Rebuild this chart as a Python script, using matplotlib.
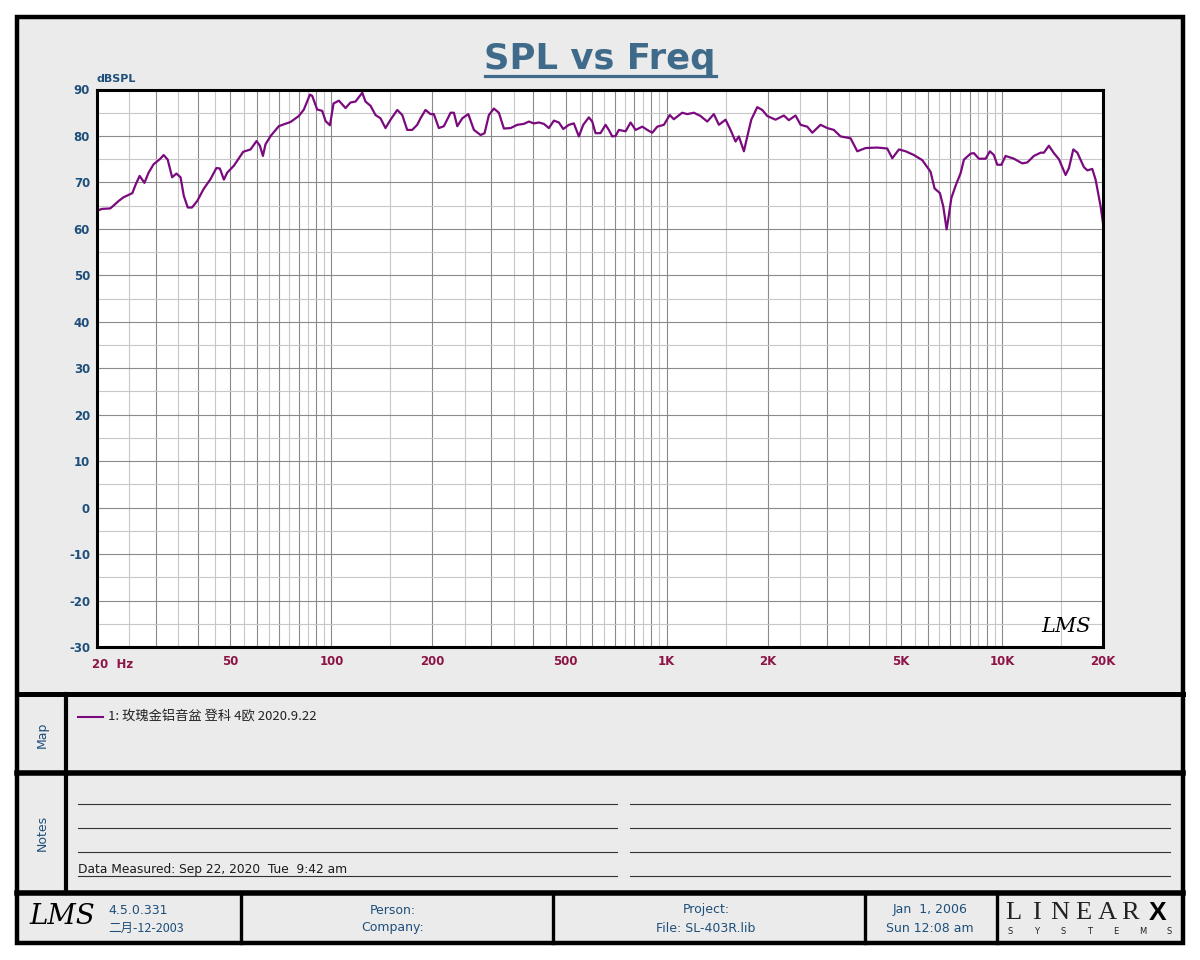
import matplotlib
matplotlib.use("Agg")
import matplotlib.pyplot as plt
from matplotlib.patches import Rectangle
from matplotlib.lines import Line2D
from matplotlib.ticker import NullFormatter
import matplotlib.transforms as mtransforms

plt.rcParams["axes.unicode_minus"] = False

freq = [20, 20.7, 21.9, 22.4, 23.2, 24.0, 25.5, 26.1, 26.8, 27.7, 28.5, 29.5, 30.9, 31.6,
        32.5, 33.5, 34.5, 35.5, 36.3, 37.3, 38.4, 39.8, 41.6, 43.6, 45.4, 46.5, 47.8, 48.9,
        51.2, 54.6, 57.4, 59.8, 61.2, 62.5, 63.6, 65.9, 69.7, 72.1, 75.5, 80.0, 82.8, 86.3,
        87.7, 90.7, 93.9, 96.1, 99.0, 101.5, 105.3, 110.2, 114.0, 118.0, 123.6, 126.4, 130.8,
        135.4, 140.1, 145.0, 150.1, 157.2, 162.7, 168.3, 174.2, 180.3, 184.4, 190.8, 197.5,
        202.1, 209.1, 216.5, 226.7, 231.9, 237.4, 245.7, 256.0, 266.1, 278.6, 286.3, 294.9,
        305.2, 315.8, 326.9, 342.3, 358.4, 375.0, 388.1, 401.6, 415.7, 430.2, 445.2, 460.8,
        476.9, 491.5, 510.8, 528.5, 547.0, 563.7, 585.8, 599.6, 613.3, 634.7, 657.0, 672.0,
        688.0, 703.8, 719.9, 754.0, 780.3, 807.5, 845.5, 875.0, 905.7, 937.2, 980.7, 1021,
        1050, 1112, 1151, 1205, 1261, 1321, 1382, 1431, 1498, 1550, 1604, 1641, 1699, 1730,
        1787, 1862, 1927, 1994, 2111, 2235, 2313, 2422, 2507, 2625, 2717, 2876, 3011, 3150,
        3299, 3534, 3701, 3918, 4246, 4546, 4706, 4926, 5158, 5458, 5782, 6120, 6292, 6526,
        6680, 6834, 6942, 7058, 7270, 7524, 7696, 8058, 8242, 8530, 8932, 9198, 9454, 9678,
        9948, 10246, 10848, 11490, 11892, 12444, 13030, 13328, 13792, 14278, 14776, 15470,
        15830, 16310, 16770, 17540, 17960, 18580, 19010, 19680, 20000]
spl = [63.9, 64.3, 64.4, 65.0, 66.0, 66.8, 67.7, 69.6, 71.4, 69.9, 72.1, 73.9, 75.1, 75.9,
       74.9, 71.1, 71.9, 71.1, 67.1, 64.6, 64.6, 66.0, 68.6, 70.7, 73.1, 73.0, 70.6, 72.1,
       73.6, 76.6, 77.1, 78.9, 77.9, 75.7, 78.2, 80.0, 82.1, 82.5, 83.0, 84.3, 85.7, 88.9,
       88.6, 85.7, 85.4, 83.2, 82.3, 87.0, 87.6, 86.0, 87.2, 87.4, 89.3, 87.4, 86.5,
       84.5, 83.8, 81.7, 83.5, 85.6, 84.5, 81.3, 81.3, 82.4, 83.8, 85.6, 84.7,
       84.7, 81.7, 82.1, 85.0, 85.0, 82.1, 83.8, 84.7, 81.3, 80.2, 80.6, 84.5,
       85.9, 85.0, 81.6, 81.7, 82.4, 82.6, 83.1, 82.7, 82.9, 82.6, 81.7, 83.3,
       82.9, 81.5, 82.4, 82.7, 79.9, 82.4, 84.0, 83.1, 80.6, 80.6, 82.4, 81.3,
       79.9, 80.0, 81.3, 81.0, 82.9, 81.3, 82.0, 81.3, 80.7, 82.0, 82.4, 84.5,
       83.6, 85.0, 84.7, 85.0, 84.3, 83.1, 84.7, 82.4, 83.5, 81.3, 78.8, 79.9, 76.7, 79.2,
       83.5, 86.2, 85.6, 84.3, 83.5, 84.4, 83.4, 84.4, 82.4, 82.0, 80.7, 82.4, 81.7, 81.3,
       79.9, 79.5, 76.7, 77.4, 77.5, 77.3, 75.2, 77.1, 76.7, 75.9, 74.8, 72.3, 68.7, 67.7,
       64.8, 59.9, 63.0, 66.6, 69.3, 72.0, 74.9, 76.2, 76.3, 75.1, 75.1, 76.7, 75.9, 73.8,
       73.8, 75.7, 75.1, 74.1, 74.3, 75.7, 76.4, 76.4, 77.9, 76.3, 75.0, 71.6,
       73.1, 77.1, 76.4, 73.3, 72.6, 72.9, 70.6, 64.8, 61.2]

x_label_pos = [50, 100, 200, 500, 1000, 2000, 5000, 10000, 20000]
x_label_txt = ["50", "100", "200", "500", "1K", "2K", "5K", "10K", "20K"]
y_ticks = list(range(-30, 91, 10))

legend_text = "1: 玫瑰金铝音盆 登科 4欧 2020.9.22"
measured_text = "Data Measured: Sep 22, 2020  Tue  9:42 am"

NAVY = "#1E4F7A"
MAROON = "#8C1446"
PURPLE = "#7A0A7E"
PANEL = "#EBEBEB"
CJK = ["Noto Sans CJK SC", "DejaVu Sans"]

W, H = 1200, 960
fig = plt.figure(figsize=(12, 9.6), dpi=100)
fig.patch.set_facecolor("white")

# background layer in pixel coords
bg = fig.add_axes([0, 0, 1, 1])
bg.set_xlim(0, W)
bg.set_ylim(H, 0)
bg.axis("off")

bg.add_patch(Rectangle((17, 17), 1166, 926, facecolor=PANEL, edgecolor="black", lw=3.2))
for yy, lw in [(694, 3.6), (773, 4.0), (893, 4.0)]:
    bg.add_line(Line2D([17, 1183], [yy, yy], color="black", lw=lw))
bg.add_line(Line2D([66, 66], [694, 893], color="black", lw=3.0))
for xx in [241, 553, 865, 997]:
    bg.add_line(Line2D([xx, xx], [893, 943], color="black", lw=2.4))

# title
bg.text(600, 69, "SPL vs Freq", ha="center", va="baseline", fontsize=25.5,
        fontweight="bold", color="#3F6A8A")
bg.add_line(Line2D([485, 716], [75.5, 75.5], color="#3F6A8A", lw=2.3))

# map panel
bg.text(42, 735, "Map", rotation=90, ha="center", va="center", fontsize=9, color=NAVY)
bg.add_line(Line2D([78, 103], [717, 717], color=PURPLE, lw=1.5))
bg.text(108, 717, legend_text, ha="left", va="center", fontsize=9.5, color="#222222",
        family=CJK)

# notes panel
bg.text(42, 833, "Notes", rotation=90, ha="center", va="center", fontsize=9, color=NAVY)
for yy in [804, 828, 852]:
    bg.add_line(Line2D([78, 617], [yy, yy], color="#333333", lw=0.8))
for yy in [804, 828, 852, 876]:
    bg.add_line(Line2D([630, 1170], [yy, yy], color="#333333", lw=0.8))
bg.add_line(Line2D([78, 617], [876, 876], color="#333333", lw=0.8))
bg.text(78, 870, measured_text, ha="left", va="center", fontsize=8.8, color="#1a1a1a")

# footer
bg.text(62, 917, "LMS", ha="center", va="center", fontsize=20, fontstyle="italic",
        family="DejaVu Serif", color="black")
bg.text(108, 910, "4.5.0.331", ha="left", va="center", fontsize=9, color=NAVY)
bg.text(108, 928, "二月-12-2003", ha="left", va="center", fontsize=9, color=NAVY, family=CJK)
bg.text(393, 910, "Person:", ha="center", va="center", fontsize=9, color=NAVY)
bg.text(393, 928, "Company:", ha="center", va="center", fontsize=9, color=NAVY)
bg.text(706, 910, "Project:", ha="center", va="center", fontsize=9, color=NAVY)
bg.text(706, 928, "File: SL-403R.lib", ha="center", va="center", fontsize=9, color=NAVY)
bg.text(930, 910, "Jan  1, 2006", ha="center", va="center", fontsize=9, color=NAVY)
bg.text(930, 928, "Sun 12:08 am", ha="center", va="center", fontsize=9, color=NAVY)

for i, ch in enumerate("LINEAR"):
    bg.text(1013 + i * 23.5, 913, ch, ha="center", va="center", fontsize=19,
            family="Liberation Serif", color="#222222")
bg.text(1158, 913, "X", ha="center", va="center", fontsize=19, fontweight="bold",
        family="Liberation Sans", color="black")
for i, ch in enumerate("SYSTEMS"):
    bg.text(1010 + i * 26.5, 932, ch, ha="center", va="center", fontsize=6,
            family="DejaVu Sans", color="#222222")

# plot area
ax = fig.add_axes([97 / W, 1 - 647 / H, 1006 / W, 557.5 / H])
ax.set_facecolor("white")
ax.set_xscale("log")
ax.set_xlim(20, 20000)
ax.set_ylim(-30, 90)

dark = [n * d for d in [10, 100, 1000, 10000] for n in range(1, 10) if 20 <= n * d <= 20000]
light = [(n + 0.5) * d for d in [10, 100, 1000, 10000] for n in range(1, 10)
         if 20 < (n + 0.5) * d < 20000]
ax.set_xticks(dark)
ax.set_xticks(light, minor=True)
ax.xaxis.set_minor_formatter(NullFormatter())
ax.set_xticklabels([x_label_txt[x_label_pos.index(v)] if v in x_label_pos else "" for v in dark])
ax.set_yticks(y_ticks)
ax.set_yticks(range(-25, 90, 10), minor=True)
ax.yaxis.set_minor_formatter(NullFormatter())
ax.grid(True, which="major", color="#8a8a8a", lw=0.8)
ax.grid(True, which="minor", color="#c8c8c8", lw=0.8)
ax.tick_params(which="both", length=0)
ax.tick_params(axis="x", pad=6, labelsize=8.5, labelcolor=MAROON)
ax.tick_params(axis="y", pad=5, labelsize=8.5, labelcolor=NAVY)
for lab in ax.get_xticklabels() + ax.get_yticklabels():
    lab.set_fontweight("bold")
for sp in ax.spines.values():
    sp.set_linewidth(2.2)
    sp.set_color("black")

shift = mtransforms.ScaledTranslation(-5 / 100, 0, fig.dpi_scale_trans)
ax.text(20, -0.019, "20  Hz", transform=ax.get_xaxis_transform() + shift, ha="left",
        va="top", fontsize=8.5, fontweight="bold", color=MAROON)
ax.text(0, 1.01, "dBSPL", transform=ax.transAxes, ha="left", va="bottom",
        fontsize=8, fontweight="bold", color=NAVY)

ax.plot(freq, spl, color=PURPLE, lw=1.6)

ax.text(0.988, 0.02, "LMS", transform=ax.transAxes, ha="right", va="bottom", fontsize=15,
        fontstyle="italic", family="DejaVu Serif", color="black")

fig.savefig("out.png", dpi=100)
